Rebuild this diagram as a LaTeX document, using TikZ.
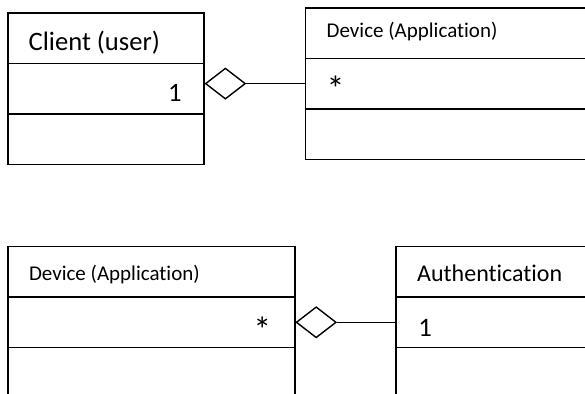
\documentclass[tikz,border=0pt]{standalone}
\usepackage{fontspec}
\setmainfont{Carlito}[Ligatures=NoCommon]
\usetikzlibrary{shapes.geometric,positioning}
\tikzset{
    cell/.style={draw, rectangle, inner sep=0pt, anchor=north west, minimum height=25.2pt},
    agg/.style={draw, diamond, inner sep=0pt, minimum width=20pt, minimum height=15.5pt, fill=white},
    big/.style={inner sep=0pt, font=\fontsize{13.3}{16}\selectfont},
    mid/.style={inner sep=0pt, font=\fontsize{12}{14}\selectfont},
    small/.style={inner sep=0pt, font=\fontsize{10.5}{13}\selectfont},
    star/.style={inner sep=0pt, font=\fontsize{18}{20}\selectfont}
}
\begin{document}
\begin{tikzpicture}[x=0.5pt, y=-0.5pt, line width=0.7pt]
    \useasboundingbox (0,0) rectangle (585,393);
    \clip (0,0) rectangle (585,393);
    % class boxes, three rows each
    \foreach \cls/\x/\y/\w in {client/7.3/12.3/98pt, devtop/304.7/7.3/180pt, devbot/7.3/246/143.4pt, auth/395.3/246/140pt}
    {
        \foreach \i in {1,2,3}
            \node[cell, minimum width=\w] (\cls\i) at (\x, {\y + (\i-1)*50.4}) {};
    }
    \node[big, anchor=base west] (clientname) at (28,50) {Client (user)};
    \node[big, anchor=base east] (clientmult) at (182.3,101.7) {1};
    \node[small, anchor=base west] (devtopname) at (326,37.3) {Device (Application)};
    \node[star, anchor=base west] (devtopmult) at (326,101.5) {*};
    \node[small, anchor=base west] (devbotname) at (28.3,280.7) {Device (Application)};
    \node[star, anchor=base east] (devbotmult) at (272,342) {*};
    \node[mid, anchor=base west] (authname) at (416.5,281) {Authentication};
    \node[big, anchor=base west] (authmult) at (417.7,336) {1};
    % aggregations
    \node[agg, anchor=west] (aggtop) at (client2.east |- devtop2.west) {};
    \draw (aggtop.east) -- (devtop2.west);
    \node[agg, anchor=west] (aggbot) at (devbot2.east) {};
    \draw (aggbot.east) -- (auth2.west);
\end{tikzpicture}
\end{document}
